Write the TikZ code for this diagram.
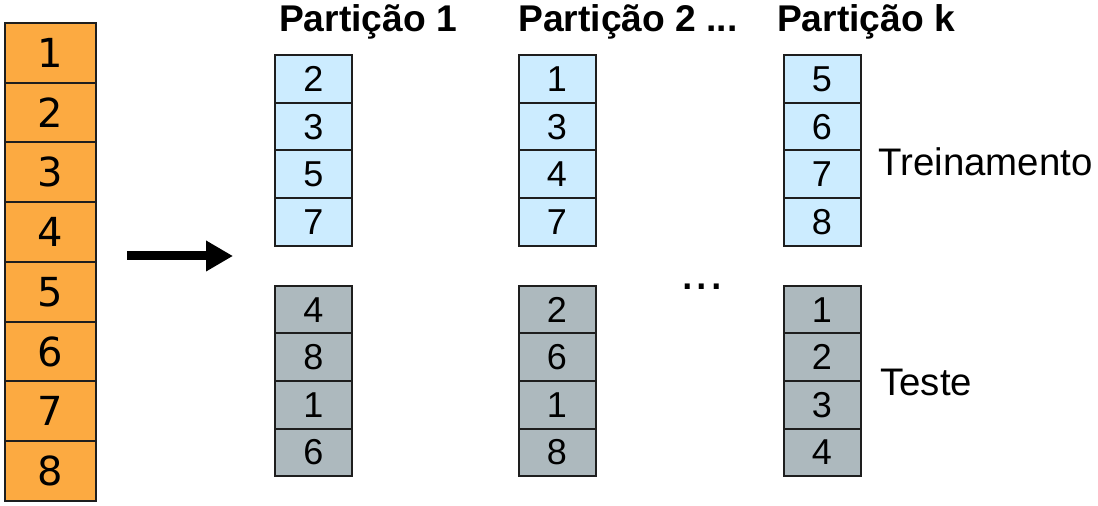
\documentclass[tikz,border=0pt]{standalone}
\usepackage{fontspec}
\setmainfont{Liberation Sans}
\newfontfamily\cellfont{DejaVu Sans}
\usetikzlibrary{arrows.meta,positioning}
\definecolor{origfill}{RGB}{252,170,65}
\definecolor{trainfill}{RGB}{204,236,255}
\definecolor{testfill}{RGB}{173,185,190}
\definecolor{cellline}{RGB}{30,30,30}
\tikzset{
  orig cell/.style={draw=cellline,line width=1pt,fill=origfill,minimum width=45.5pt,
    minimum height=29.9pt,inner sep=0pt,font=\cellfont\fontsize{20}{20}\selectfont},
  part cell/.style={draw=cellline,line width=1pt,minimum width=38.5pt,
    minimum height=23.9pt,inner sep=0pt,font=\fontsize{18}{18}\selectfont},
  train cell/.style={part cell,fill=trainfill},
  test cell/.style={part cell,fill=testfill},
  part title/.style={anchor=base,font=\bfseries\fontsize{18.6}{18.6}\selectfont,inner sep=0pt},
  side label/.style={anchor=base west,font=\fontsize{19.2}{19.2}\selectfont,inner sep=0pt},
  split arrow/.style={line width=4.5pt,-{Triangle[length=13.5pt,width=14.5pt]}}
}
\newcommand{\PartColumn}[4]{% name, x, train list, test list
  \foreach \v [count=\j] in {#3} {
    \node[train cell] (#1t\j) at (#2,{55+47.75*(\j-0.5)}) {\v};
  }
  \foreach \v [count=\j] in {#4} {
    \node[test cell] (#1s\j) at (#2,{286+47.6*(\j-0.5)}) {\v};
  }
}

\begin{document}
\begin{tikzpicture}[x=0.5pt,y=-0.5pt,line cap=butt,line join=miter]
  \useasboundingbox (0,0) rectangle (1098,506);
  % Original data set
  \foreach \i in {1,...,8} {
    \node[orig cell] (o\i) at (50.5,{23+59.75*(\i-0.5)}) {\i};
  }

  % Splitting arrow
  \coordinate (arrowS) at (127,256);
  \coordinate (arrowE) at (233,256);
  \draw[split arrow] (arrowS) -- (arrowE);

  % The k partitions
  \PartColumn{pa}{313.5}{2,3,5,7}{4,8,1,6}
  \PartColumn{pb}{557}{1,3,4,7}{2,6,1,8}
  \PartColumn{pk}{822}{5,6,7,8}{1,2,3,4}

  \node[part title] (ta) at (368,32) {Partição 1};
  \node[part title] (tb) at (628,32) {Partição 2 ...};
  \node[part title] (tk) at (866,32) {Partição k};

  \node[anchor=base west,font=\fontsize{26}{26}\selectfont,inner sep=0pt] (dots) at (680,290) {...};
  \node[side label] (train) at (878,176) {Treinamento};
  \node[side label] (test) at (880,396) {Teste};
\end{tikzpicture}
\end{document}
